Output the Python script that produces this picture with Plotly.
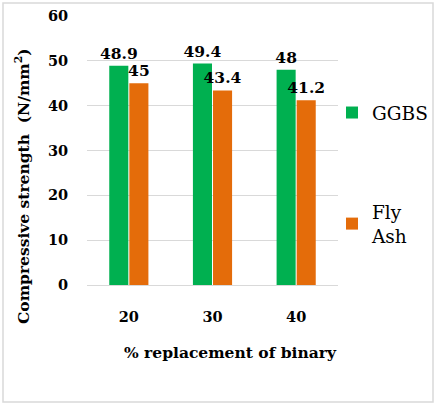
import plotly.graph_objects as go

categories = ["20", "30", "40"]
ggbs = [48.9, 49.4, 48]
fly_ash = [45, 43.4, 41.2]
series_names = ["GGBS", "Fly<br>Ash"]
x_title = "% replacement of binary"
y_title = "Compressive strength  (N/mm<sup>2</sup>)"

W, H = 438, 406
L, R, T, B = 87, 100, 16, 121
pw, ph = W - L - R, H - T - B

font_fam = "DejaVu Serif"

fig = go.Figure()
fig.add_trace(go.Bar(
    x=categories, y=ggbs, name=series_names[0], marker_color="#00b050",
    marker_line_width=0, text=[f"<b>{v:g}</b>" for v in ggbs],
    textposition="outside", constraintext="none",
    textfont=dict(family=font_fam, size=15.5, color="black"),
    cliponaxis=False, legendgroup="a"))
fig.add_trace(go.Bar(
    x=categories, y=fly_ash, name=series_names[1], marker_color="#e46c0a",
    marker_line_width=0, text=[f"<b>{v:g}</b>" for v in fly_ash],
    textposition="outside", constraintext="none",
    textfont=dict(family=font_fam, size=15.5, color="black"),
    cliponaxis=False, legendgroup="b"))

def px_x(x):
    return (x - L) / pw

def px_y(y):
    return (H - B - y) / ph

fig.update_layout(
    width=W, height=H,
    margin=dict(l=L, r=R, t=T, b=B, autoexpand=False),
    paper_bgcolor="white", plot_bgcolor="white",
    barmode="group", bargap=0.52, bargroupgap=0.05,
    font=dict(family=font_fam, color="black"),
    showlegend=True,
    legend=dict(x=px_x(332), y=px_y(94), xanchor="left", yanchor="top",
                font=dict(family=font_fam, size=18.5, color="black"),
                tracegroupgap=72, itemwidth=30, bgcolor="rgba(0,0,0,0)"),
    xaxis=dict(
        showgrid=False, showline=True, linecolor="#d9d9d9", linewidth=1,
        ticks="outside", ticklen=19, tickcolor="rgba(0,0,0,0)",
        tickfont=dict(family=font_fam, size=14.5, color="black"),
        tickprefix="<b>", ticksuffix="</b>"),
    yaxis=dict(
        range=[0, 60], dtick=10, showgrid=True, gridcolor="#d9d9d9", gridwidth=1,
        zeroline=False, showline=False,
        ticks="outside", ticklen=15, tickcolor="rgba(0,0,0,0)",
        tickfont=dict(family=font_fam, size=14.5, color="black"),
        tickprefix="<b>", ticksuffix="</b>"),
    annotations=[
        dict(text=f"<b>{x_title}</b>", xref="paper", yref="paper",
             x=px_x(230), y=px_y(352), showarrow=False,
             xanchor="center", yanchor="middle",
             font=dict(family=font_fam, size=15.5, color="black")),
        dict(text=f"<b>{y_title}</b>", xref="paper", yref="paper",
             x=px_x(22), y=px_y(186), showarrow=False, textangle=-90,
             xanchor="center", yanchor="middle",
             font=dict(family=font_fam, size=15.5, color="black")),
    ],
    shapes=[dict(type="rect", xref="paper", yref="paper",
                 x0=px_x(3), x1=px_x(433), y0=px_y(402), y1=px_y(3),
                 line=dict(color="#d9d9d9", width=1.5), layer="below")],
)

fig.write_html("out.html")
